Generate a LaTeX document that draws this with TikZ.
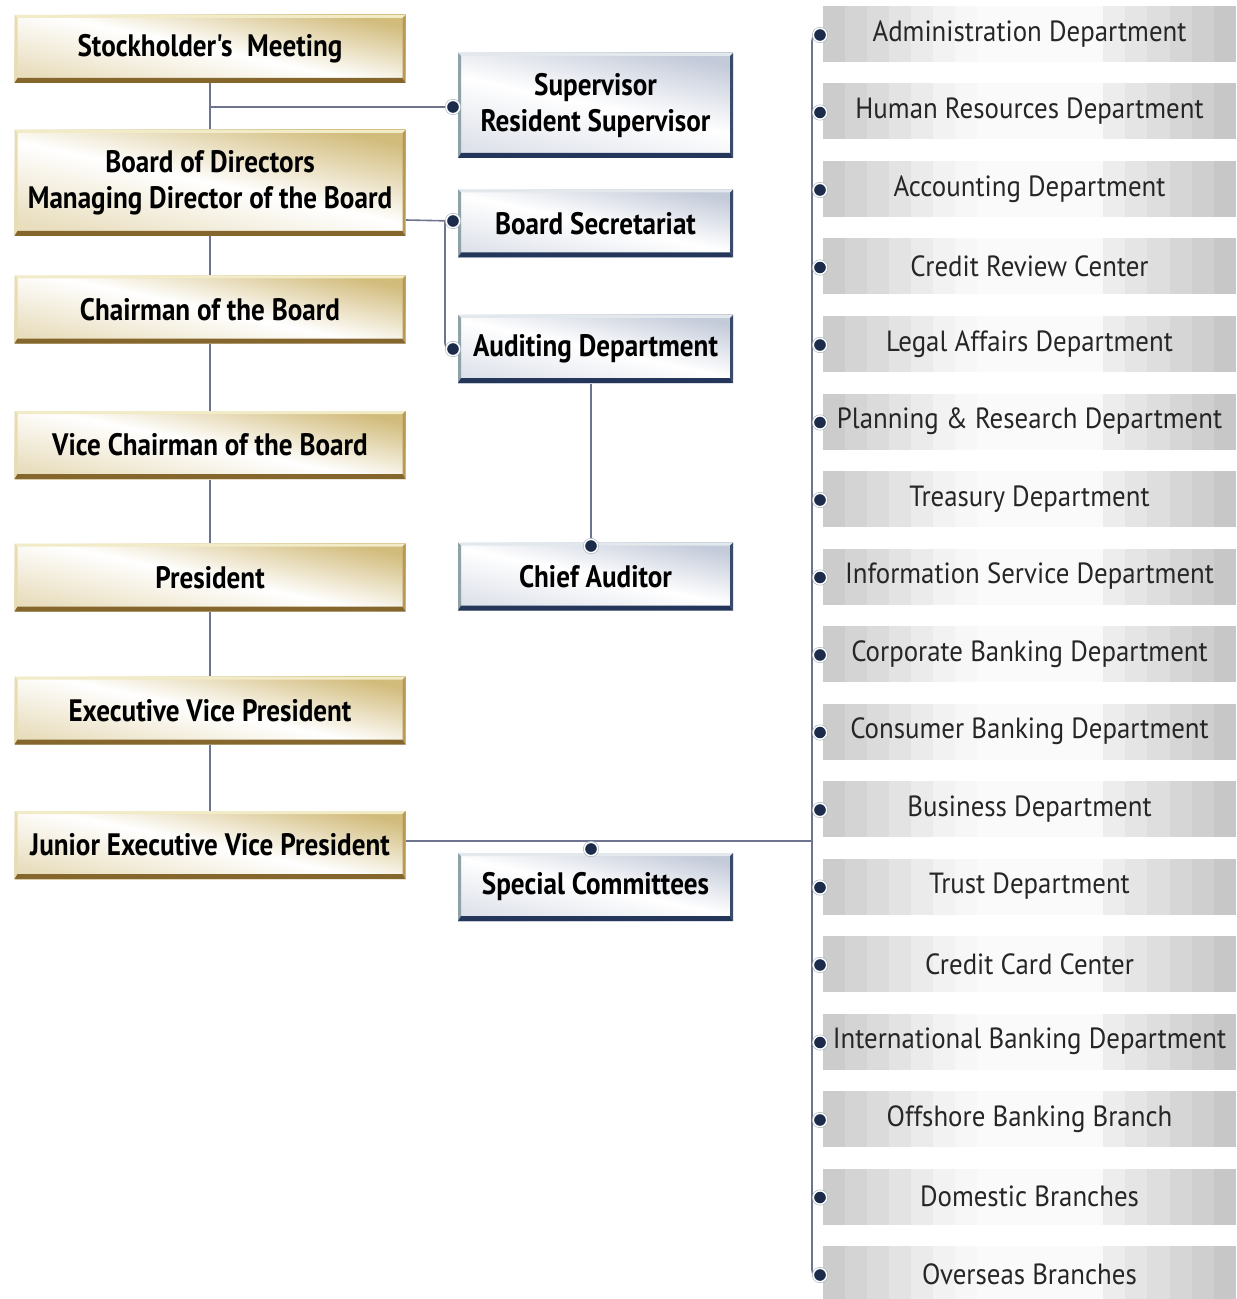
\documentclass[tikz,border=0pt]{standalone}
\usepackage{fontspec}
\setmainfont{PT Sans}
\newfontfamily\headfont[FakeStretch=0.875]{PT Sans}
\newfontfamily\deptfont[FakeStretch=0.92]{PT Sans}
\usetikzlibrary{calc,backgrounds}
\definecolor{goldD}{HTML}{85672E}
\definecolor{goldR}{HTML}{B89A55}
\definecolor{goldF}{HTML}{D2BC7C}
\definecolor{goldT}{HTML}{F2EBC8}
\definecolor{blueD}{HTML}{24365A}
\definecolor{blueF}{HTML}{C3CAD9}
\definecolor{blueL}{HTML}{8FA2A8}
\definecolor{blueT}{HTML}{E2E8EC}
\definecolor{lineC}{HTML}{6E7490}
\definecolor{dotC}{HTML}{1C2B4A}
\definecolor{ringC}{HTML}{A9B8C0}
\tikzset{
  bevel/.style n args={4}{path picture={
    \coordinate (bb1) at (path picture bounding box.north west);
    \coordinate (bb2) at (path picture bounding box.north east);
    \coordinate (bb3) at (path picture bounding box.south east);
    \coordinate (bb4) at (path picture bounding box.south west);
    \fill[#1] (bb1) -- (bb2) -- ([shift={(-1.5pt,-1.5pt)}]bb2) -- ([shift={(1.5pt,-1.5pt)}]bb1) -- cycle;
    \fill[#2] (bb1) -- ([shift={(1.5pt,-1.5pt)}]bb1) -- ([shift={(1.5pt,2.5pt)}]bb4) -- (bb4) -- cycle;
    \fill[#3] (bb2) -- (bb3) -- ([shift={(-1.5pt,2.5pt)}]bb3) -- ([shift={(-1.5pt,-1.5pt)}]bb2) -- cycle;
    \fill[#4] (bb4) -- (bb3) -- ([shift={(-1.5pt,2.5pt)}]bb3) -- ([shift={(1.5pt,2.5pt)}]bb4) -- cycle;
  }},
  bands/.style={path picture={
    \coordinate (q1) at (path picture bounding box.south west);
    \coordinate (q2) at (path picture bounding box.north east);
    \coordinate (q3) at (path picture bounding box.south east);
    \fill[white!98!black] (q1) rectangle (q2);
    \foreach \k/\w in {0/80,1/83,2/86,3/89,4/92,5/95,6/97}{
      \fill[white!\w!black] ([xshift={\k*11pt}]q1) rectangle ++(11.2pt,28pt);
    }
    \foreach \k/\w in {0/78,1/81,2/84,3/87,4/90,5/93}{
      \fill[white!\w!black] ([xshift={-\k*11.1pt-11.1pt}]q3) rectangle ++(11.2pt,28pt);
    }
  }},
  goldbox/.style={rectangle, inner sep=0pt, minimum width=195.5pt, minimum height=34pt,
    top color=goldF, bottom color=goldF!50, middle color=white, shading angle=-12,
    bevel={goldT}{goldT!70!goldF}{goldR}{goldD},
    font=\headfont\bfseries\fontsize{15.5}{18}\selectfont, align=center, text=black},
  bluebox/.style={rectangle, inner sep=0pt, minimum width=137.5pt, minimum height=34pt,
    top color=blueF, bottom color=blueF!55, middle color=white, shading angle=-12,
    bevel={blueT}{blueL}{blueD!90}{blueD},
    font=\headfont\bfseries\fontsize{15.5}{18}\selectfont, align=center, text=black},
  deptbox/.style={rectangle, inner sep=0pt, minimum width=206.5pt, minimum height=28pt,
    bands, font=\deptfont\fontsize{14.6}{16}\selectfont, text=black!85},
  conn/.style={draw=lineC, line width=0.8pt},
  dot/.style={circle, inner sep=0pt, minimum size=6.6pt, fill=dotC, draw=white, line width=0.7pt,
    append after command={\pgfextra{\draw[ringC, line width=0.4pt] (\tikzlastnode.center) circle (3.8pt);}}},
}
\begin{document}
\begin{tikzpicture}[x=0.5pt,y=-0.5pt]
\useasboundingbox (0,0) rectangle (1236,1299);
% left column
\node[goldbox] (sm) at (210,49) {Stockholder's\hspace{0.25em} Meeting};
\node[goldbox, minimum height=53pt] (bd) at (210,183) {Board of Directors\\Managing Director of the Board};
\node[goldbox] (cb) at (210,309.5) {Chairman of the Board};
\node[goldbox] (vc) at (210,445) {Vice Chairman of the Board};
\node[goldbox] (pr) at (210,577.5) {President};
\node[goldbox] (evp) at (210,710.5) {Executive Vice President};
\node[goldbox] (jevp) at (210,845) {Junior Executive Vice President};
% middle column
\node[bluebox, minimum height=52.5pt] (sup) at (595.5,105.5) {Supervisor\\Resident Supervisor};
\node[bluebox] (bs) at (595.5,223.5) {Board Secretariat};
\node[bluebox] (ad) at (595.5,349) {Auditing Department};
\node[bluebox] (ca) at (595.5,576.5) {Chief Auditor};
\node[bluebox] (sc) at (595.5,887) {Special Committees};
% right column
\foreach \t [count=\i] in {Administration Department, Human Resources Department,
  Accounting Department, Credit Review Center, Legal Affairs Department,
  Planning \& Research Department, Treasury Department, Information Service Department,
  Corporate Banking Department, Consumer Banking Department, Business Department,
  Trust Department, Credit Card Center, International Banking Department,
  Offshore Banking Branch, Domestic Branches, Overseas Branches}{
  \node[deptbox] (g\i) at (1029.5,{34+77.5*(\i-1)}) {\raisebox{-1.2pt}{\t}};
  \node[dot] (d\i) at (820,{35+77.5*(\i-1)}) {};
}
% dots of middle column
\node[dot] (dsup) at (453,107) {};
\node[dot] (dbs) at (453,221) {};
\node[dot] (dad) at (453,349) {};
\node[dot] (dca) at (591,546) {};
\node[dot] (dsc) at (591,849) {};
% junction coordinates
\coordinate (j1) at (210,107);
\coordinate (j2) at (445,221);
\coordinate (spT) at (812,35);
\coordinate (spB) at (812,1276);
\coordinate (spJ) at (812,841);
\begin{pgfonlayer}{background}
\draw[conn] (sm) -- (bd) -- (cb) -- (vc) -- (pr) -- (evp) -- (jevp);
\draw[conn] (j1) -- (dsup);
\draw[conn] ([yshift=-18.5pt]bd.east) -- (dbs);
\draw[conn, rounded corners=3pt] (j2) -- (j2 |- dad) -- (dad);
\draw[conn] (dca |- ad.south) -- (dca);
\draw[conn] ([yshift=2pt]jevp.east) -- (spJ);
\draw[conn, rounded corners=3pt] (d1) -- (spT) -- (spB) -- (d17);
\foreach \i in {2,...,16}{\draw[conn] (d\i -| spT) -- (d\i);}
\end{pgfonlayer}
\end{tikzpicture}
\end{document}
